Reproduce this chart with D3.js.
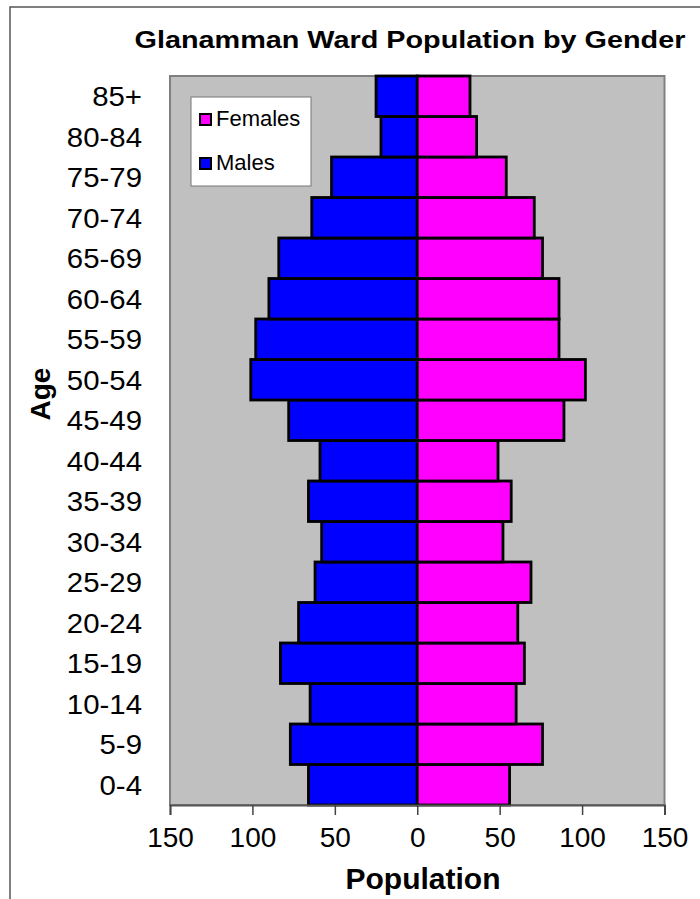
<!DOCTYPE html>
<html>
<head>
<meta charset="utf-8">
<script src="https://cdn.jsdelivr.net/npm/d3@7"></script>
<style>
  body { margin: 0; background: #fff; }
  svg text { font-family: Arial, "Liberation Sans", sans-serif; }
</style>
</head>
<body>
<div id="vis"></div>
<script>
// age groups, bottom to top
var ages = ["0-4","5-9","10-14","15-19","20-24","25-29","30-34","35-39","40-44",
            "45-49","50-54","55-59","60-64","65-69","70-74","75-79","80-84","85+"];
var males   = [66, 77, 65, 83, 72, 62, 58, 66, 59, 78, 101, 98, 90, 84, 64, 52, 22, 25];
var females = [56, 76, 60, 65, 61, 69, 52, 57, 49, 89, 102, 86, 86, 76, 71, 54, 36, 32];
var xTicks = [-150, -100, -50, 0, 50, 100, 150];

var w = 700, h = 899;
var plotL = 170, plotR = 664.5, plotT = 76, plotB = 805;

var svg = d3.select("#vis").append("svg")
  .attr("width", w)
  .attr("height", h);

// outer chart frame
svg.append("rect")
  .attr("x", 10).attr("y", 7)
  .attr("width", 720).attr("height", 920)
  .attr("fill", "#fff")
  .attr("stroke", "#555")
  .attr("stroke-width", 1.5);

var x = d3.scaleLinear().domain([-150, 150]).range([plotL, plotR]);
var y = d3.scaleBand().domain(ages).range([plotB, plotT]).padding(0);

// plot area
svg.append("rect")
  .attr("x", plotL).attr("y", plotT)
  .attr("width", plotR - plotL).attr("height", plotB - plotT)
  .attr("fill", "#c0c0c0")
  .attr("stroke", "#808080")
  .attr("stroke-width", 2);

// males (left)
svg.selectAll(".male")
  .data(males)
  .enter()
  .append("rect")
  .attr("class", "male")
  .attr("x", function(d){ return x(-d); })
  .attr("y", function(d, i){ return y(ages[i]); })
  .attr("width", function(d){ return x(0) - x(-d); })
  .attr("height", y.bandwidth())
  .attr("fill", "#0000ff")
  .attr("stroke", "#000")
  .attr("stroke-width", 2.8);

// females (right)
svg.selectAll(".female")
  .data(females)
  .enter()
  .append("rect")
  .attr("class", "female")
  .attr("x", x(0))
  .attr("y", function(d, i){ return y(ages[i]); })
  .attr("width", function(d){ return x(d) - x(0); })
  .attr("height", y.bandwidth())
  .attr("fill", "#ff00ff")
  .attr("stroke", "#000")
  .attr("stroke-width", 2.8);

// x axis
var xAxis = d3.axisBottom(x)
  .tickValues(xTicks)
  .tickSize(10)
  .tickPadding(12)
  .tickFormat(function(d){ return Math.abs(d); });

var gx = svg.append("g")
  .attr("transform", "translate(0," + plotB + ")")
  .call(xAxis);
gx.select(".domain").attr("stroke", "#555").attr("stroke-width", 2);
gx.selectAll(".tick line").attr("stroke", "#444").attr("stroke-width", 1.5);
gx.selectAll(".tick text")
  .attr("font-size", 28)
  .attr("fill", "#000")
  .style("font-family", "Arial, 'Liberation Sans', sans-serif");

// y labels
svg.selectAll(".agelab")
  .data(ages)
  .enter()
  .append("text")
  .attr("class", "agelab")
  .attr("x", 142)
  .attr("y", function(d){ return y(d) + y.bandwidth() / 2 + 10; })
  .attr("text-anchor", "end")
  .attr("font-size", 28)
  .attr("transform", "translate(142,0) scale(1.05,1) translate(-142,0)")
  .text(function(d){ return d; });

// titles
svg.append("text")
  .attr("x", 410).attr("y", 48)
  .attr("text-anchor", "middle")
  .attr("font-size", 24)
  .attr("font-weight", "bold")
  .attr("transform", "translate(410,0) scale(1.2,1) translate(-410,0)")
  .text("Glanamman Ward Population by Gender");

svg.append("text")
  .attr("x", 423).attr("y", 889)
  .attr("text-anchor", "middle")
  .attr("font-size", 30)
  .attr("font-weight", "bold")
  .text("Population");

svg.append("text")
  .attr("transform", "translate(50,394) rotate(-90)")
  .attr("text-anchor", "middle")
  .attr("font-size", 28)
  .attr("font-weight", "bold")
  .text("Age");

// legend
var legend = svg.append("g");
legend.append("rect")
  .attr("x", 191).attr("y", 97)
  .attr("width", 120).attr("height", 89)
  .attr("fill", "#fff")
  .attr("stroke", "#777")
  .attr("stroke-width", 1);

var legendItems = ["Females", "Males"];
var legendColors = ["#ff00ff", "#0000ff"];
legend.selectAll(".sw")
  .data(legendItems)
  .enter()
  .append("rect")
  .attr("x", 200)
  .attr("y", function(d, i){ return 114 + i * 44; })
  .attr("width", 11).attr("height", 11)
  .attr("fill", function(d, i){ return legendColors[i]; })
  .attr("stroke", "#000")
  .attr("stroke-width", 2);
legend.selectAll(".lt")
  .data(legendItems)
  .enter()
  .append("text")
  .attr("x", 216)
  .attr("y", function(d, i){ return 126 + i * 44; })
  .attr("font-size", 22)
  .text(function(d){ return d; });
</script>
</body>
</html>
